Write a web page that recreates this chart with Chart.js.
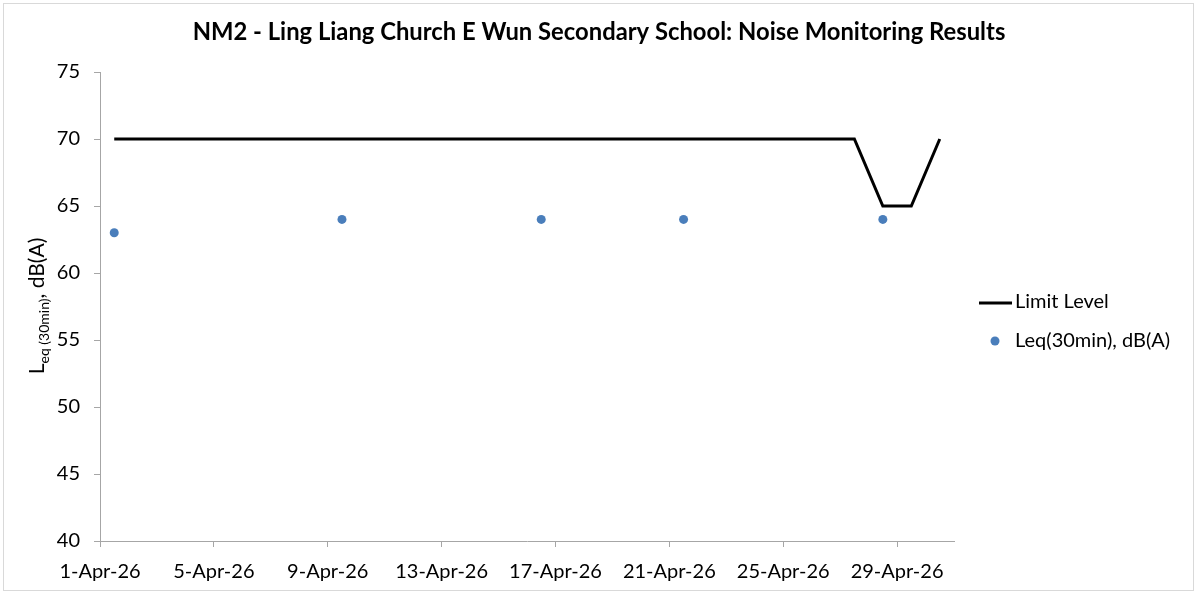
<!DOCTYPE html>
<html>
<head>
<meta charset="utf-8">
<script src="https://cdn.jsdelivr.net/npm/chart.js@4.4.1/dist/chart.umd.min.js"></script>
<style>
html,body{margin:0;padding:0;background:#fff;}
#wrap{position:relative;width:1198px;height:594px;}
canvas{display:block;}
</style>
</head>
<body>
<div id="wrap"><canvas id="c" width="1198" height="594"></canvas></div>
<script>
// ---- data ----
const chartTitle = 'NM2 - Ling Liang Church E Wun Secondary School: Noise Monitoring Results';
const axisStartDate = '2026-04-01';
const axisEndDate = '2026-05-01';
const tickDates = ['2026-04-01','2026-04-05','2026-04-09','2026-04-13','2026-04-17','2026-04-21','2026-04-25','2026-04-29'];
const limitDates = ['2026-04-01','2026-04-02','2026-04-03','2026-04-04','2026-04-05','2026-04-06','2026-04-07','2026-04-08','2026-04-09','2026-04-10',
  '2026-04-11','2026-04-12','2026-04-13','2026-04-14','2026-04-15','2026-04-16','2026-04-17','2026-04-18','2026-04-19','2026-04-20',
  '2026-04-21','2026-04-22','2026-04-23','2026-04-24','2026-04-25','2026-04-26','2026-04-27','2026-04-28','2026-04-29','2026-04-30'];
const limitValues = [70,70,70,70,70,70,70,70,70,70,
  70,70,70,70,70,70,70,70,70,70,
  70,70,70,70,70,70,70,65,65,70];
const leqDates = ['2026-04-01','2026-04-09','2026-04-16','2026-04-21','2026-04-28'];
const leqValues = [63,64,64,64,64];
const yMin = 40, yMax = 75, yStep = 5;
const monthNames = ['Jan','Feb','Mar','Apr','May','Jun','Jul','Aug','Sep','Oct','Nov','Dec'];

// ---- helpers ----
const DAY = 86400000;
const t0 = Date.UTC(2026,3,1);
function dayIndex(s){ const p=s.split('-').map(Number); return (Date.UTC(p[0],p[1]-1,p[2]) - t0)/DAY; }
function fmtDay(v){ const d=new Date(t0 + v*DAY); return d.getUTCDate()+'-'+monthNames[d.getUTCMonth()]+'-'+String(d.getUTCFullYear()).slice(2); }
// Excel date axis "between tick marks": each day's value sits in the middle of its day
const limitData = limitDates.map((d,i)=>({x:dayIndex(d)+0.5, y:limitValues[i]}));
const leqData = leqDates.map((d,i)=>({x:dayIndex(d)+0.5, y:leqValues[i]}));
const tickVals = tickDates.map(dayIndex);

const FONT = 'Lato, "Open Sans", sans-serif';
const AXIS_COLOR = '#a6a6a6';
const BLUE = '#4a7ebb';

const decorPlugin = {
  id:'decor',
  afterDraw(chart){
    const ctx = chart.ctx;
    ctx.save();
    // outer border
    ctx.strokeStyle = '#d9d9d9';
    ctx.lineWidth = 1;
    ctx.strokeRect(3.5,3.5,1190,587);
    // title
    ctx.fillStyle = '#000';
    ctx.font = 'bold 23.8px ' + FONT;
    ctx.textAlign = 'center';
    ctx.textBaseline = 'middle';
    ctx.fillText(chartTitle, 599, 32);
    // y axis title with subscript
    ctx.translate(44, 306);
    ctx.rotate(-Math.PI/2);
    ctx.textBaseline = 'alphabetic';
    ctx.textAlign = 'left';
    const mainF = '21px ' + FONT, subF = '14px ' + FONT;
    ctx.font = mainF; const wL = ctx.measureText('L').width;
    ctx.font = subF; const wS = ctx.measureText('eq (30min)').width;
    ctx.font = mainF; const wR = ctx.measureText(', dB(A)').width;
    let x = -(wL + wS + wR)/2;
    ctx.font = mainF; ctx.fillText('L', x, 0); x += wL;
    ctx.font = subF; ctx.fillText('eq (30min)', x, 5); x += wS;
    ctx.font = mainF; ctx.fillText(', dB(A)', x, 0);
    ctx.restore();
    // legend
    ctx.save();
    ctx.strokeStyle = '#000'; ctx.lineWidth = 3;
    ctx.beginPath(); ctx.moveTo(979,303); ctx.lineTo(1012,303); ctx.stroke();
    ctx.fillStyle = BLUE;
    ctx.beginPath(); ctx.arc(995,341,4.5,0,Math.PI*2); ctx.fill();
    ctx.fillStyle = '#000';
    ctx.font = '20px ' + FONT;
    ctx.textAlign = 'left'; ctx.textBaseline = 'middle';
    ctx.fillText(chart.data.datasets[0].label, 1015, 302);
    ctx.fillText(chart.data.datasets[1].label, 1015, 341);
    ctx.restore();
  }
};

new Chart(document.getElementById('c'), {
  type:'scatter',
  data:{
    datasets:[
      {label:'Limit Level', data:limitData, showLine:true, borderColor:'#000', backgroundColor:'#000',
       borderWidth:3, pointRadius:0, tension:0, order:2},
      {label:'Leq(30min), dB(A)', data:leqData, showLine:false, backgroundColor:BLUE, borderColor:BLUE,
       pointRadius:4.5, pointBorderWidth:0, order:1}
    ]
  },
  options:{
    responsive:false,
    animation:false,
    devicePixelRatio:1,
    layout:{padding:{left:0, right:244, top:72, bottom:0}},
    plugins:{legend:{display:false}, title:{display:false}, tooltip:{enabled:false}},
    scales:{
      x:{
        type:'linear', min:dayIndex(axisStartDate), max:dayIndex(axisEndDate),
        afterBuildTicks(s){ s.ticks = tickVals.map(v=>({value:v})); },
        afterFit(s){ s.height = 53; },
        border:{color:AXIS_COLOR, width:1},
        grid:{drawOnChartArea:false, drawTicks:true, tickLength:6, color:AXIS_COLOR},
        ticks:{callback:(v)=>fmtDay(v), color:'#000', font:{family:FONT, size:20}, padding:13, maxRotation:0, autoSkip:false}
      },
      y:{
        min:yMin, max:yMax,
        afterBuildTicks(s){ const t=[]; for(let v=yMin; v<=yMax; v+=yStep) t.push({value:v}); s.ticks=t; },
        afterFit(s){ s.width = 100; },
        border:{color:AXIS_COLOR, width:1},
        grid:{drawOnChartArea:false, drawTicks:true, tickLength:6, color:AXIS_COLOR},
        ticks:{color:'#000', font:{family:FONT, size:20}, padding:14}
      }
    }
  },
  plugins:[decorPlugin]
});
</script>
</body>
</html>
